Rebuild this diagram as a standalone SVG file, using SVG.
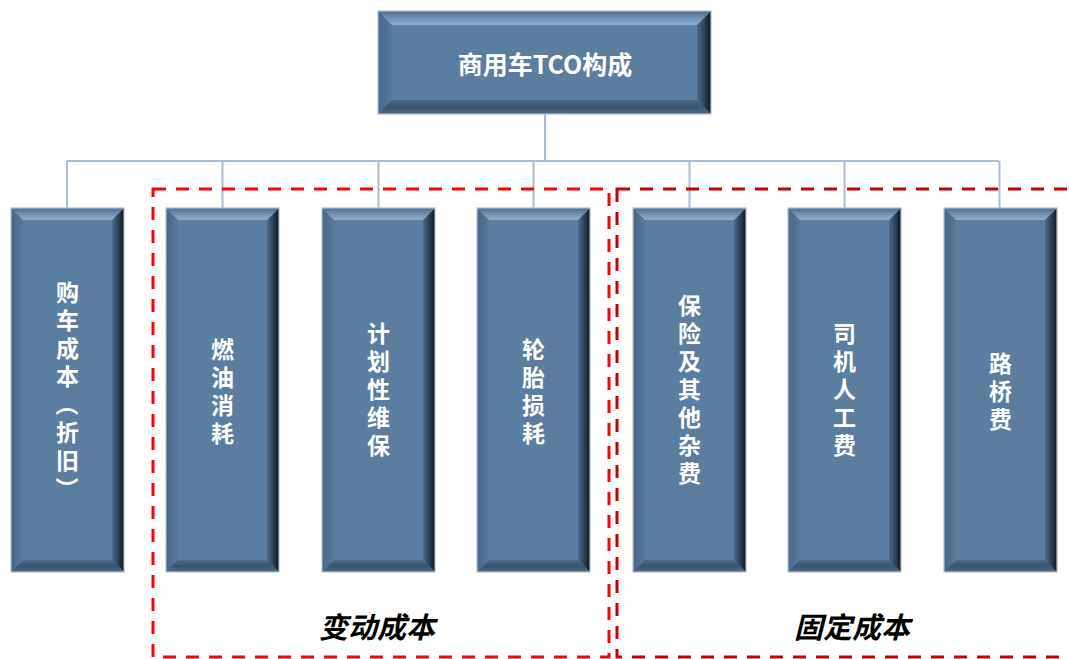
<svg xmlns="http://www.w3.org/2000/svg" xmlns:xlink="http://www.w3.org/1999/xlink" width="1069" height="659" viewBox="0 0 1069 659">
  <defs>
    <linearGradient id="gTop" x1="0" y1="0" x2="0" y2="1">
      <stop offset="0" stop-color="#4b6c8f"/>
      <stop offset="0.6" stop-color="#7898bb"/>
      <stop offset="1" stop-color="#8eadcd"/>
    </linearGradient>
    <linearGradient id="gBot" x1="0" y1="0" x2="0" y2="1">
      <stop offset="0" stop-color="#4c6988"/>
      <stop offset="0.5" stop-color="#3a526b"/>
      <stop offset="1" stop-color="#4f6b8a"/>
    </linearGradient>
    <linearGradient id="gLeft" x1="0" y1="0" x2="1" y2="0">
      <stop offset="0" stop-color="#46668a"/>
      <stop offset="1" stop-color="#587a9d"/>
    </linearGradient>
    <linearGradient id="gRight" x1="0" y1="0" x2="1" y2="0">
      <stop offset="0" stop-color="#4d6b8c"/>
      <stop offset="0.5" stop-color="#2e435a"/>
      <stop offset="1" stop-color="#0f161e"/>
    </linearGradient>
    <g id="tallbox">
      <rect class="body" x="0" y="0" width="113" height="364"/>
      <polygon fill="url(#gLeft)" points="0,0 12,12 12,352 0,364"/>
      <polygon fill="url(#gRight)" points="113,0 113,364 101,352 101,12"/>
      <polygon fill="url(#gTop)" points="0,0 113,0 101,12 12,12"/>
      <polygon fill="url(#gBot)" points="0,364 113,364 101,352 12,352"/>
      <rect class="edge" x="0" y="0" width="113" height="364"/>
    </g>
  </defs>
  <style>
    .body { fill: #5a7da0; }
    .edge { fill: none; stroke: #b3bfcb; stroke-width: 1.2; }
    .conn { fill: none; stroke: #a9bccf; stroke-width: 2; }
    .dashA { fill: none; stroke: #ff0000; stroke-width: 3; stroke-dasharray: 13 10; }
    .dashB { fill: none; stroke: #c80000; stroke-width: 3; stroke-dasharray: 13 10; }
    .lbl { font-family: "Noto Sans CJK SC", "Liberation Sans", sans-serif; font-weight: 700; fill: #ffffff; }
    .vt { font-size: 23px; writing-mode: vertical-rl; text-anchor: middle; letter-spacing: 5px; }
    .sw { text-orientation: sideways; }
    .ttl { font-size: 25px; text-anchor: middle; }
    .grp { font-family: "Noto Sans CJK SC", "Liberation Serif", serif; font-size: 29px; font-style: italic; font-weight: 700; fill: #000000; text-anchor: middle; }
  </style>
  <rect x="0" y="0" width="1069" height="659" fill="#ffffff"/>

  <g id="connectors">
    <path class="conn" d="M545,114 V161 M67,161 H999 M67,161 V208 M222.5,161 V208 M378.5,161 V208 M533.5,161 V208 M689.5,161 V208 M844.5,161 V208 M999.5,161 V208"/>
  </g>

  <g id="root">
    <rect class="body" x="378" y="11" width="333" height="103"/>
    <polygon fill="url(#gLeft)" points="378,11 392,25 392,100 378,114"/>
    <polygon fill="url(#gRight)" points="711,11 711,114 697,100 697,25"/>
    <polygon fill="url(#gTop)" points="378,11 711,11 697,25 392,25"/>
    <polygon fill="url(#gBot)" points="378,114 711,114 697,100 392,100"/>
    <rect class="edge" x="378" y="11" width="333" height="103"/>
    <text class="lbl ttl" x="545" y="74">商用车TCO构成</text>
  </g>

  <g id="n1">
    <use xlink:href="#tallbox" x="11" y="208"/>
    <text class="lbl vt" x="67.5" y="393">购车成本<tspan class="sw">（</tspan>折旧<tspan class="sw">）</tspan></text>
  </g>
  <g id="n2">
    <use xlink:href="#tallbox" x="166" y="208"/>
    <text class="lbl vt" x="222.5" y="394">燃油消耗</text>
  </g>
  <g id="n3">
    <use xlink:href="#tallbox" x="322" y="208"/>
    <text class="lbl vt" x="378.5" y="392">计划性维保</text>
  </g>
  <g id="n4">
    <use xlink:href="#tallbox" x="477" y="208"/>
    <text class="lbl vt" x="533.5" y="394">轮胎损耗</text>
  </g>
  <g id="n5">
    <use xlink:href="#tallbox" x="633" y="208"/>
    <text class="lbl vt" x="689.5" y="392">保险及其他杂费</text>
  </g>
  <g id="n6">
    <use xlink:href="#tallbox" x="788" y="208"/>
    <text class="lbl vt" x="844.5" y="392">司机人工费</text>
  </g>
  <g id="n7">
    <use xlink:href="#tallbox" x="944" y="208"/>
    <text class="lbl vt" x="1000.5" y="394">路桥费</text>
  </g>

  <g id="variable-cost">
    <rect class="dashA" x="153" y="189" width="456" height="468"/>
    <text class="grp" x="377" y="638">变动成本</text>
  </g>
  <g id="fixed-cost">
    <rect class="dashB" x="617" y="189" width="470" height="468"/>
    <text class="grp" x="852" y="638">固定成本</text>
  </g>
</svg>
